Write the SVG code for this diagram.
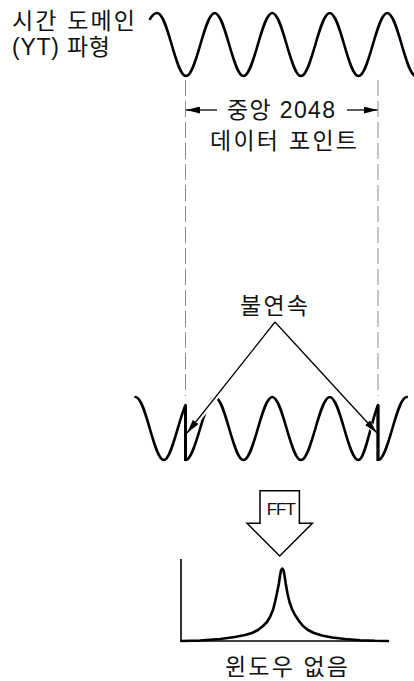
<svg xmlns="http://www.w3.org/2000/svg" width="414" height="681" viewBox="0 0 414 681">
<defs>
<marker id="ah" viewBox="0 0 14 7" refX="14" refY="3.5" markerWidth="14" markerHeight="7" markerUnits="userSpaceOnUse" orient="auto"><path d="M0,0 L14,3.5 L0,7 z" fill="#000"/></marker>
</defs>
<style>
.t{font-family:"Liberation Sans","Noto Sans CJK KR",sans-serif;font-size:23px;fill:#111}
.m{text-anchor:middle}
.wave{fill:none;stroke:#000;stroke-width:2.6;stroke-linecap:round;stroke-linejoin:round}
.dash{stroke:#8a8a8a;stroke-width:1;stroke-dasharray:16 5;fill:none}
.arr{stroke:#000;stroke-width:1.3;fill:none}
.halo{stroke:#fff;stroke-width:6;fill:none}
.disc{stroke:#000;stroke-width:3}
.thin{fill:none;stroke:#000;stroke-width:1.6}
</style>
<rect width="414" height="681" fill="#fff"/>
<g id="label-time">
<text class="t" x="12" y="29" textLength="123" lengthAdjust="spacing">시간 도메인</text>
<text class="t" x="12" y="55" textLength="98" lengthAdjust="spacing">(YT) 파형</text>
</g>
<g id="top-wave">
<path class="wave" d="M150,19 Q153.5,13 157.25,13 C167.75,13 175.5,76 186,76 S204.25,13 214.75,13 S233,76 243.5,76 S261.75,13 272.25,13 S290.5,76 301,76 S319.25,13 329.75,13 S348,76 358.5,76 S376.75,13 387.25,13 S405.5,76 416,76"/>
</g>
<g id="guides">
<line class="dash" x1="185.5" y1="80" x2="185.5" y2="396"/>
<line class="dash" x1="378" y1="80" x2="378" y2="396"/>
</g>
<g id="label-center">
<text class="t m" x="281" y="118" textLength="108" lengthAdjust="spacing">중앙 2048</text>
<text class="t m" x="283.5" y="149" textLength="147" lengthAdjust="spacing">데이터 포인트</text>
</g>
<g id="label-disc">
<text class="t m" x="274" y="314" textLength="68" lengthAdjust="spacing">불연속</text>
</g>
<g id="bottom-wave">
<path class="wave" d="M135.5,397 C146,397 153.5,460 164,460 C171.2,460 178.3,421.5 185.5,405 L185.5,460 C196,460 204.25,397 214.75,397 S233,460 243.5,460 S261.75,397 272.25,397 S290.5,460 301,460 S319.25,397 329.75,397 S348,460 358.5,460 C365,460 371.5,420 378,405 L378,460 C388.5,460 396.25,397 406.75,397"/>
</g>
<g id="connectors">
<line class="arr" x1="217" y1="110" x2="186" y2="110" marker-end="url(#ah)"/>
<line class="arr" x1="347" y1="110" x2="377.5" y2="110" marker-end="url(#ah)"/>
<line class="halo" x1="275" y1="322" x2="189" y2="430.5"/>
<line class="halo" x1="275" y1="322" x2="375" y2="430.8"/>
<line class="arr" x1="275" y1="322" x2="187" y2="433" marker-end="url(#ah)"/>
<line class="arr" x1="275" y1="322" x2="377" y2="433" marker-end="url(#ah)"/>
</g>
<g id="discontinuities">
<line class="disc" x1="185.5" y1="405" x2="185.5" y2="461"/>
<line class="disc" x1="378" y1="405" x2="378" y2="461"/>
</g>
<g id="fft-arrow">
<polygon points="260,490.7 299.4,490.7 299.4,523.3 312.4,523.3 279.7,556 247,523.3 260,523.3" fill="#fff" stroke="#000" stroke-width="1.5"/>
<text x="281.3" y="515" class="m" font-family="Liberation Sans, sans-serif" font-size="17" textLength="29" lengthAdjust="spacing" fill="#111">FFT</text>
</g>
<g id="spectrum">
<polyline class="thin" points="181,559 181,641 389,641"/>
<polyline class="wave" points="181.5,641 200,640.5 220,639 235,637 245,635 252,633 258,630 263,626 267,622 270,617 273,610 275,602 277,593 278.8,584 280,576 281,570.5 282.3,568.5 283.6,570.5 284.6,576 285.8,584 287.4,593 289.5,602 292,609 295,615 299,621 303,626 308,630 314,633 322,635.5 332,637.5 345,639 360,640.2 375,640.8 388,641"/>
</g>
<g id="label-nowin">
<text class="t m" x="286.5" y="675" textLength="123" lengthAdjust="spacing">윈도우 없음</text>
</g>
</svg>
